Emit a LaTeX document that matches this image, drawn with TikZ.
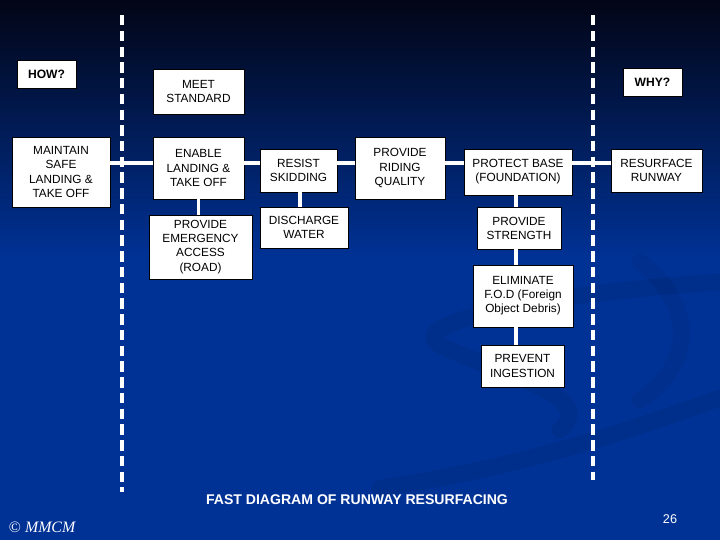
\documentclass[tikz,border=0pt]{standalone}
\usepackage{fontspec}
\setmainfont{Liberation Sans}
\newfontfamily\slideserif{Liberation Serif}
\usetikzlibrary{positioning}
\definecolor{slidetop}{RGB}{2,5,22}
\definecolor{slideblue}{RGB}{0,50,150}

\begin{document}
\begin{tikzpicture}[x=0.025cm,y=-0.025cm]

    \tikzset{fbox/.style={draw=black,fill=white,line width=0.6pt,align=center,inner sep=0pt,font=\fontsize{8.4}{10}\selectfont},
      tag/.style={fbox,font=\fontsize{8.6}{10}\selectfont\bfseries},
      size/.style n args={2}{minimum width=#1*0.025cm,minimum height=#2*0.025cm},
      link/.style={white,line width=2.7pt},
      scopeline/.style={white,line width=2.6pt,dash pattern=on 7.4pt off 3.8pt},
      swirl/.style={black,opacity=0.07,line width=12pt,line cap=round}}
    % slide background
    \useasboundingbox (0,0) rectangle (720,540);
    \fill[slideblue] (0,0) rectangle (720,540);
    \shade[top color=slidetop,bottom color=slideblue] (0,0) rectangle (720,260);
    \draw[swirl] (720,282) .. controls (560,292) and (400,322) .. (440,345) .. controls (500,375) and (600,395) .. (560,430);
    \draw[swirl] (380,488) .. controls (520,468) and (630,430) .. (720,398);
    \draw[swirl,opacity=0.05] (640,262) .. controls (690,300) and (700,360) .. (640,400);

    % scope lines
    \draw[scopeline] (122,15) -- (122,492);
    \draw[scopeline] (593,15) -- (593,480);

    \node[tag,size={59}{28}] (how) at (46.5,74) {HOW?};
    \node[tag,size={59}{28}] (why) at (652.5,82) {WHY?};
    \node[fbox,size={91}{45}] (meet) at (198.5,91.5) {MEET\\STANDARD};
    \node[fbox,size={98}{70}] (maintain) at (61,172) {MAINTAIN\\SAFE\\LANDING \&\\TAKE OFF};
    \node[fbox,size={91}{62}] (enable) at (198.5,168) {ENABLE\\LANDING \&\\TAKE OFF};
    \node[fbox,size={77}{43}] (resist) at (298.5,170.5) {RESIST\\SKIDDING};
    \node[fbox,size={90}{62}] (riding) at (400,168) {PROVIDE\\RIDING\\QUALITY};
    \node[fbox,size={108}{46}] (protect) at (518,172) {PROTECT BASE\\(FOUNDATION)};
    \node[fbox,size={91}{43}] (resurface) at (656.5,170.5) {RESURFACE\\RUNWAY};
    \node[fbox,size={103}{64}] (access) at (200.5,247) {PROVIDE\\EMERGENCY\\ACCESS\\(ROAD)};
    \node[fbox,size={88}{41}] (water) at (304,227.5) {DISCHARGE\\WATER};
    \node[fbox,size={84}{42}] (strength) at (519,228) {PROVIDE\\STRENGTH};
    \node[fbox,size={100}{62}] (fod) at (523,296) {ELIMINATE\\F.O.D (Foreign\\Object Debris)};
    \node[fbox,size={83}{42}] (ingest) at (522.5,366) {PREVENT\\INGESTION};

    \coordinate (spine) at (0,163);
    \coordinate (stem) at (516,0);
    \path[link]
    (maintain.east |- spine) edge (enable.west |- spine)
    (enable.east |- spine) edge (resist.west |- spine)
    (resist.east |- spine) edge (riding.west |- spine)
    (riding.east |- spine) edge (protect.west |- spine)
    (protect.east |- spine) edge (resurface.west |- spine)
    (enable.south) edge (enable.south |- access.north)
    (resist.south -| 300,0) edge (water.north -| 300,0)
    (protect.south -| stem) edge (strength.north -| stem)
    (strength.south -| stem) edge (fod.north -| stem)
    (fod.south -| stem) edge (ingest.north -| stem)
    ;

    \node[text=white,font=\fontsize{10}{12}\selectfont\bfseries] (title) at (357,500) {FAST DIAGRAM OF RUNWAY RESURFACING};
    \node[text=white,anchor=west,font=\slideserif\fontsize{11.3}{13}\selectfont] (copyr) at (4,527) {© \textit{MMCM}};
    \node[text=white,font=\fontsize{9}{11}\selectfont] (pnum) at (670,519) {26};
  \end{tikzpicture}
\end{document}
